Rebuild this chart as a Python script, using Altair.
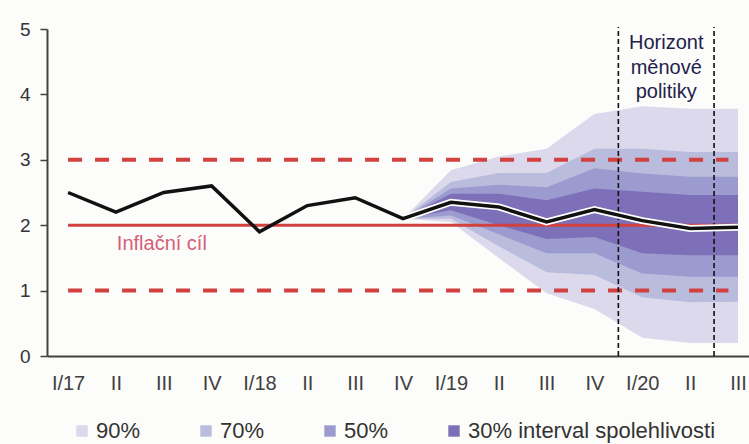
import altair as alt
import pandas as pd

# ---- data ----
quarter_labels = ["I/17", "II", "III", "IV", "I/18", "II", "III", "IV",
                  "I/19", "II", "III", "IV", "I/20", "II", "III"]
inflation = [2.5, 2.2, 2.5, 2.6, 1.9, 2.3, 2.42, 2.1,
             2.35, 2.28, 2.05, 2.24, 2.07, 1.95, 1.97]

fan_start = 7  # index of IV/18, where the fan begins
lo90 = [2.1, 2.05, 1.50, 0.96, 0.72, 0.28, 0.20, 0.20]
lo70 = [2.1, 2.10, 1.68, 1.28, 1.24, 0.90, 0.82, 0.83]
lo50 = [2.1, 2.15, 1.86, 1.57, 1.57, 1.26, 1.21, 1.21]
lo30 = [2.1, 2.23, 2.00, 1.79, 1.82, 1.57, 1.54, 1.54]
hi30 = [2.1, 2.48, 2.48, 2.38, 2.56, 2.51, 2.46, 2.46]
hi50 = [2.1, 2.56, 2.62, 2.58, 2.87, 2.79, 2.74, 2.74]
hi70 = [2.1, 2.66, 2.80, 2.80, 3.17, 3.17, 3.12, 3.12]
hi90 = [2.1, 2.84, 3.05, 3.17, 3.70, 3.82, 3.78, 3.78]

band_names = ["90%", "70%", "50%", "30% interval spolehlivosti"]
band_colors = ["#dcd9ec", "#b9bcdc", "#9c9bd0", "#7d70b8"]

target = 2.0
tolerance = [1.0, 3.0]
horizon = [11.5, 13.5]
horizon_text = ["Horizont", "měnové", "politiky"]
horizon_text_y = [4.78, 4.41, 4.03]

# ---- tables ----
n = len(quarter_labels)
line_df = pd.DataFrame({"i": list(range(n)), "v": inflation})
halo_df = line_df[line_df["i"] >= fan_start]

fan_idx = list(range(fan_start, n))
bands = {
    band_names[0]: (lo90, hi90),
    band_names[1]: (lo70, hi70),
    band_names[2]: (lo50, hi50),
    band_names[3]: (lo30, hi30),
}

FONT = "Liberation Sans"
x_scale = alt.Scale(domain=[-0.44, 14.23], nice=False, zero=False)
y_scale = alt.Scale(domain=[0, 5], nice=False, zero=False)

label_expr = "[" + ",".join("'%s'" % s for s in quarter_labels) + "][datum.value]"
x_axis = alt.Axis(values=list(range(n)), labelExpr=label_expr, ticks=False,
                  grid=False, domainColor="#404040", domainWidth=2,
                  labelFont=FONT, labelFontSize=20, labelColor="#404040",
                  labelPadding=17, labelOverlap=False, labelFlush=False, title=None)
y_axis = alt.Axis(values=[0, 1, 2, 3, 4, 5], grid=False, ticks=True, tickSize=7,
                  tickColor="#404040", tickWidth=1.5, domainColor="#404040",
                  domainWidth=2, labelFont=FONT, labelFontSize=19,
                  labelColor="#333333", labelPadding=10, title=None)


def X(field):
    return alt.X(field, type="quantitative", scale=x_scale, axis=x_axis)


def Y(field):
    return alt.Y(field, type="quantitative", scale=y_scale, axis=y_axis)


color_scale = alt.Scale(domain=band_names, range=band_colors)
legend = alt.Legend(orient="none", legendX=24, legendY=391, direction="horizontal",
                    title=None, symbolType="square", symbolSize=130,
                    symbolStrokeWidth=0, symbolOpacity=1, labelFont=FONT,
                    labelFontSize=22, labelColor="#333333", columnPadding=54,
                    labelOffset=3, labelLimit=0, padding=0)

layers = []
for name in band_names:
    lo, hi = bands[name]
    df = pd.DataFrame({"i": fan_idx, "lo": lo, "hi": hi, "band": name})
    layers.append(
        alt.Chart(df).mark_area(opacity=1, interpolate="linear").encode(
            x=X("i"), y=Y("lo"), y2="hi",
            color=alt.Color("band:N", scale=color_scale, legend=legend,
                            sort=band_names),
        )
    )

red = "#d0413f"
target_df = pd.DataFrame({"x0": [0], "x1": [n - 1], "y": [target]})
tol_df = pd.DataFrame({"x0": [0, 0], "x1": [13.8, 13.8], "y": tolerance})
layers.append(alt.Chart(tol_df).mark_rule(color=red, strokeWidth=4,
                                          strokeDash=[14, 13]).encode(
    x=X("x0"), x2="x1", y=Y("y")))
layers.append(alt.Chart(target_df).mark_rule(color=red, strokeWidth=3).encode(
    x=X("x0"), x2="x1", y=Y("y")))

hz_df = pd.DataFrame({"x": horizon, "y0": [0, 0], "y1": [5.03, 5.03]})
layers.append(alt.Chart(hz_df).mark_rule(color="#111111", strokeWidth=1.6,
                                         strokeDash=[5, 3]).encode(
    x=X("x"), y=Y("y0"), y2="y1"))

layers.append(alt.Chart(halo_df).mark_line(color="white", strokeWidth=7).encode(
    x=X("i"), y=Y("v")))
layers.append(alt.Chart(line_df).mark_line(color="#111111", strokeWidth=3.5).encode(
    x=X("i"), y=Y("v")))

txt_df = pd.DataFrame({"x": [12.5] * 3, "y": horizon_text_y, "t": horizon_text})
layers.append(alt.Chart(txt_df).mark_text(font=FONT, fontSize=20, color="#22224a",
                                          align="center", baseline="middle").encode(
    x=X("x"), y=Y("y"), text="t:N"))

lab_df = pd.DataFrame({"x": [1.96], "y": [1.72], "t": ["Inflační cíl"]})
layers.append(alt.Chart(lab_df).mark_text(font=FONT, fontSize=20, color="#d45f78",
                                          align="center", baseline="middle").encode(
    x=X("x"), y=Y("y"), text="t:N"))

chart = alt.layer(*layers).properties(
    width=702, height=327,
    autosize=alt.AutoSizeParams(type="none"),
    padding={"left": 47, "top": 29, "right": 0, "bottom": 88},
    background="#fcfcfa",
).configure_view(stroke=None)

chart.save("out.html", embed_options={"renderer": "svg", "actions": False})
